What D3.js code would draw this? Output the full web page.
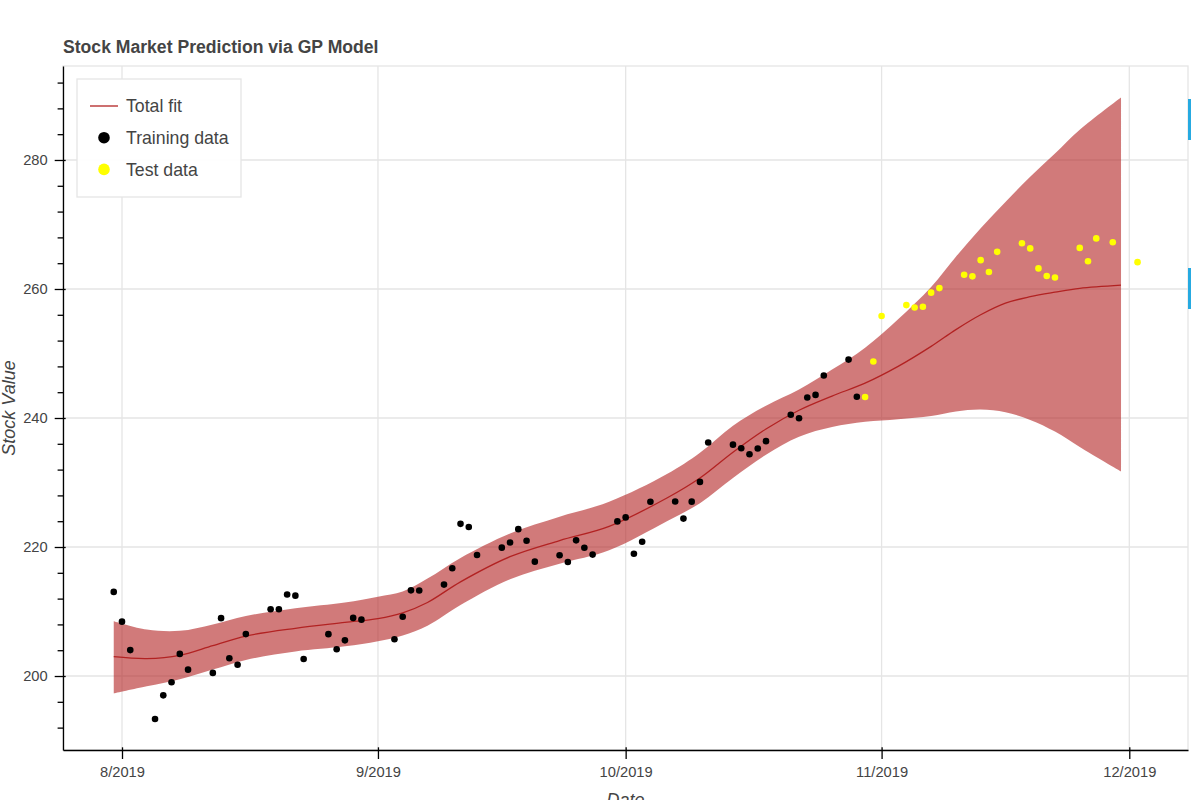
<!DOCTYPE html>
<html>
<head>
<meta charset="utf-8">
<script src="https://cdn.jsdelivr.net/npm/d3@7"></script>
<style>
	body { margin: 0; background: #fff; }
	svg { display: block; font-family: 'Liberation Sans', Arial, Helvetica, sans-serif; }
</style>
</head>
<body>
<div id="chart"></div>
<script>
'use strict';

// training closes (black dots)
var trainDates = [
	'2019-07-31', '2019-08-01', '2019-08-02', '2019-08-05', '2019-08-06', '2019-08-07', '2019-08-08', '2019-08-09',
	'2019-08-12', '2019-08-13', '2019-08-14', '2019-08-15', '2019-08-16', '2019-08-19', '2019-08-20', '2019-08-21',
	'2019-08-22', '2019-08-23', '2019-08-26', '2019-08-27', '2019-08-28', '2019-08-29', '2019-08-30', '2019-09-03',
	'2019-09-04', '2019-09-05', '2019-09-06', '2019-09-09', '2019-09-10', '2019-09-11', '2019-09-12', '2019-09-13',
	'2019-09-16', '2019-09-17', '2019-09-18', '2019-09-19', '2019-09-20', '2019-09-23', '2019-09-24', '2019-09-25',
	'2019-09-26', '2019-09-27', '2019-09-30', '2019-10-01', '2019-10-02', '2019-10-03', '2019-10-04', '2019-10-07',
	'2019-10-08', '2019-10-09', '2019-10-10', '2019-10-11', '2019-10-14', '2019-10-15', '2019-10-16', '2019-10-17',
	'2019-10-18', '2019-10-21', '2019-10-22', '2019-10-23', '2019-10-24', '2019-10-25', '2019-10-28', '2019-10-29'
];
var trainValues = [
	213.04, 208.43, 204.02, 193.34, 197.00, 199.04, 203.43, 200.99,
	200.48, 208.97, 202.75, 201.74, 206.50, 210.35, 210.36, 212.64,
	212.46, 202.64, 206.49, 204.16, 205.53, 209.01, 208.74, 205.70,
	209.19, 213.28, 213.26, 214.17, 216.70, 223.59, 223.09, 218.75,
	219.90, 220.70, 222.77, 220.96, 217.73, 218.72, 217.68, 221.03,
	219.89, 218.82, 223.97, 224.59, 218.96, 220.82, 227.01, 227.06,
	224.40, 227.03, 230.09, 236.21, 235.87, 235.32, 234.37, 235.28,
	236.41, 240.51, 239.96, 243.18, 243.58, 246.58, 249.05, 243.29
];

// test closes (yellow dots)
var testDates = [
	'2019-10-30', '2019-10-31', '2019-11-01', '2019-11-04', '2019-11-05', '2019-11-06', '2019-11-07', '2019-11-08',
	'2019-11-11', '2019-11-12', '2019-11-13', '2019-11-14', '2019-11-15', '2019-11-18', '2019-11-19', '2019-11-20',
	'2019-11-21', '2019-11-22', '2019-11-25', '2019-11-26', '2019-11-27', '2019-11-29', '2019-12-02'
];
var testValues = [
	243.26, 248.76, 255.82, 257.50, 257.13, 257.24, 259.43, 260.14,
	262.20, 261.96, 264.47, 262.64, 265.76, 267.10, 266.29, 263.19,
	262.01, 261.78, 266.37, 264.29, 267.84, 267.25, 264.16
];

// GP fit: mean and confidence band
var fitDates = [
	'2019-07-31', '2019-08-04', '2019-08-08', '2019-08-12', '2019-08-16', '2019-08-22', '2019-08-28', '2019-09-01',
	'2019-09-04', '2019-09-07', '2019-09-11', '2019-09-17', '2019-09-23', '2019-09-29', '2019-10-06', '2019-10-10',
	'2019-10-14', '2019-10-18', '2019-10-22', '2019-10-26', '2019-10-30', '2019-11-03', '2019-11-07', '2019-11-10',
	'2019-11-13', '2019-11-16', '2019-11-19', '2019-11-22', '2019-11-25', '2019-11-30'
];
var fitMean = [
	203.0, 202.7, 203.2, 204.7, 206.2, 207.4, 208.3, 208.9,
	209.8, 211.4, 214.6, 218.5, 221.0, 223.2, 227.6, 230.7,
	234.7, 238.3, 241.2, 243.4, 245.4, 248.0, 251.1, 253.7,
	256.0, 257.8, 258.8, 259.5, 260.1, 260.6
];
var fitLower = [
	197.3, 198.4, 199.5, 201.0, 202.5, 203.8, 204.6, 205.4,
	206.3, 207.8, 211.0, 215.0, 217.4, 219.5, 224.0, 226.8,
	230.7, 234.3, 237.1, 238.6, 239.4, 239.8, 240.3, 241.0,
	241.3, 240.9, 239.7, 237.9, 235.5, 231.7
];
var fitUpper = [
	208.5, 207.2, 207.0, 208.0, 209.3, 210.5, 211.4, 212.3,
	213.1, 215.1, 218.3, 222.1, 224.7, 227.0, 231.3, 234.6,
	238.8, 241.9, 244.4, 247.5, 250.9, 255.3, 260.3, 265.0,
	269.4, 273.5, 277.4, 281.0, 284.7, 289.7
];

var xTickDates = ['2019-08-01', '2019-09-01', '2019-10-01', '2019-11-01', '2019-12-01'];
var yTicks = [200, 220, 240, 260, 280];
var yMinorTicks = [192, 196, 204, 208, 212, 216, 224, 228, 232, 236, 244, 248, 252, 256, 264, 268, 272, 276, 284, 288, 292];
var legendLabels = ['Total fit', 'Training data', 'Test data'];

var parseDate = d3.timeParse('%Y-%m-%d');
var formatMonth = d3.timeFormat('%-m/%Y');

var totalWidth = 1191;
var totalHeight = 800;
var margin = {top: 66, right: 3, bottom: 50, left: 63};
var width = totalWidth - margin.left - margin.right;
var height = totalHeight - margin.top - margin.bottom;

var fitColor = '#b22222';
var gridColor = '#e5e5e5';
var textColor = '#444';

var svg = d3.select('#chart').append('svg')
	.attr('width', totalWidth)
	.attr('height', totalHeight);

svg.append('text')
	.attr('x', margin.left)
	.attr('y', 53)
	.attr('fill', textColor)
	.style('font-size', '17.6px')
	.style('font-weight', 'bold')
	.text('Stock Market Prediction via GP Model');

var g = svg.append('g')
	.attr('transform', 'translate(' + margin.left + ',' + margin.top + ')');

var xScale = d3.scaleTime()
	.domain([new Date(2019, 6, 24, 20, 30), new Date(2019, 11, 8, 2, 40)])
	.range([0, width]);

var yScale = d3.scaleLinear()
	.domain([188.53, 294.57])
	.range([height, 0]);

// grid + outline
g.append('g').attr('class', 'grid x')
	.selectAll('line').data(xTickDates).enter().append('line')
	.attr('x1', function(d){ return xScale(parseDate(d)); })
	.attr('x2', function(d){ return xScale(parseDate(d)); })
	.attr('y1', 0)
	.attr('y2', height)
	.attr('stroke', gridColor)
	.attr('stroke-width', 1.3);

g.append('g').attr('class', 'grid y')
	.selectAll('line').data(yTicks).enter().append('line')
	.attr('x1', 0)
	.attr('x2', width)
	.attr('y1', function(d){ return yScale(d); })
	.attr('y2', function(d){ return yScale(d); })
	.attr('stroke', gridColor)
	.attr('stroke-width', 1.3);

g.append('rect')
	.attr('x', 0)
	.attr('y', 0)
	.attr('width', width)
	.attr('height', height)
	.attr('fill', 'none')
	.attr('stroke', gridColor)
	.attr('stroke-width', 1.3);

// fit band + mean
var fitData = fitDates.map(function(d, i){
	return {date: parseDate(d), mean: fitMean[i], lower: fitLower[i], upper: fitUpper[i]};
});

var band = d3.area()
	.x(function(d){ return xScale(d.date); })
	.y0(function(d){ return yScale(d.lower); })
	.y1(function(d){ return yScale(d.upper); })
	.curve(d3.curveCatmullRom);

var meanLine = d3.line()
	.x(function(d){ return xScale(d.date); })
	.y(function(d){ return yScale(d.mean); })
	.curve(d3.curveCatmullRom);

g.append('path')
	.datum(fitData)
	.attr('d', band)
	.attr('fill', fitColor)
	.attr('fill-opacity', 0.6);

g.append('path')
	.datum(fitData)
	.attr('d', meanLine)
	.attr('fill', 'none')
	.attr('stroke', fitColor)
	.attr('stroke-width', 1.3);

// points
g.append('g').attr('class', 'train')
	.selectAll('circle').data(trainDates).enter().append('circle')
	.attr('cx', function(d){ return xScale(parseDate(d)); })
	.attr('cy', function(d, i){ return yScale(trainValues[i]); })
	.attr('r', 3.3)
	.attr('fill', '#000');

g.append('g').attr('class', 'test')
	.selectAll('circle').data(testDates).enter().append('circle')
	.attr('cx', function(d){ return xScale(parseDate(d)); })
	.attr('cy', function(d, i){ return yScale(testValues[i]); })
	.attr('r', 3.3)
	.attr('fill', '#ffff00');

// axes
var xAxis = d3.axisBottom(xScale)
	.tickValues(xTickDates.map(parseDate))
	.tickFormat(formatMonth)
	.tickSizeInner(9)
	.tickSizeOuter(0)
	.tickPadding(7);

var xAxisG = g.append('g')
	.attr('class', 'axis x')
	.attr('transform', 'translate(0,' + height + ')')
	.call(xAxis);

xAxisG.selectAll('.tick line').attr('y1', -2.7);

var yMinorAxis = d3.axisLeft(yScale)
	.tickValues(yMinorTicks)
	.tickFormat('')
	.tickSizeInner(5.4)
	.tickSizeOuter(0);

g.append('g')
	.attr('class', 'axis y minor')
	.call(yMinorAxis)
	.select('.domain').remove();

var yAxis = d3.axisLeft(yScale)
	.tickValues(yTicks)
	.tickSizeInner(8.3)
	.tickSizeOuter(0)
	.tickPadding(7);

var yAxisG = g.append('g')
	.attr('class', 'axis y')
	.call(yAxis);

yAxisG.selectAll('.tick line').attr('x1', 2.7);

g.selectAll('.axis .domain, .axis .tick line')
	.attr('stroke', '#000')
	.attr('stroke-width', 1.3);

g.selectAll('.axis text')
	.attr('fill', textColor)
	.style('font-size', '14.7px')
	.style('font-family', "'Liberation Sans', Arial, Helvetica, sans-serif");

xAxisG.selectAll('text').attr('y', 16.5);

// axis labels
g.append('text')
	.attr('x', width / 2)
	.attr('y', height + 56)
	.attr('text-anchor', 'middle')
	.attr('fill', textColor)
	.style('font-size', '18px')
	.style('font-style', 'italic')
	.text('Date');

svg.append('text')
	.attr('transform', 'translate(15,' + (margin.top + height / 2) + ') rotate(-90)')
	.attr('text-anchor', 'middle')
	.attr('fill', textColor)
	.style('font-size', '18px')
	.style('font-style', 'italic')
	.text('Stock Value');

// legend
var legend = svg.append('g')
	.attr('class', 'legend')
	.attr('transform', 'translate(77,79)');

legend.append('rect')
	.attr('width', 164)
	.attr('height', 118)
	.attr('fill', '#fff')
	.attr('fill-opacity', 0.95)
	.attr('stroke', gridColor)
	.attr('stroke-width', 1.3);

var entry = legend.selectAll('g.entry').data(legendLabels).enter().append('g')
	.attr('class', 'entry')
	.attr('transform', function(d, i){ return 'translate(0,' + (27 + i * 31.7) + ')'; });

entry.filter(function(d, i){ return i === 0; }).append('line')
	.attr('x1', 13)
	.attr('x2', 41)
	.attr('stroke', fitColor)
	.attr('stroke-width', 1.3);

entry.filter(function(d, i){ return i > 0; }).append('circle')
	.attr('cx', 27)
	.attr('r', 5.8)
	.attr('fill', function(d, i){ return i === 0 ? '#000' : '#ffff00'; });

entry.append('text')
	.attr('x', 49)
	.attr('dy', '0.35em')
	.attr('fill', textColor)
	.style('font-size', '17.7px')
	.text(function(d){ return d; });

// cut-off toolbar edge on the right
svg.selectAll('rect.toolbar').data([99, 268]).enter().append('rect')
	.attr('class', 'toolbar')
	.attr('x', 1188)
	.attr('y', function(d){ return d; })
	.attr('width', 3)
	.attr('height', 41)
	.attr('fill', '#26aae1');
</script>
</body>
</html>
